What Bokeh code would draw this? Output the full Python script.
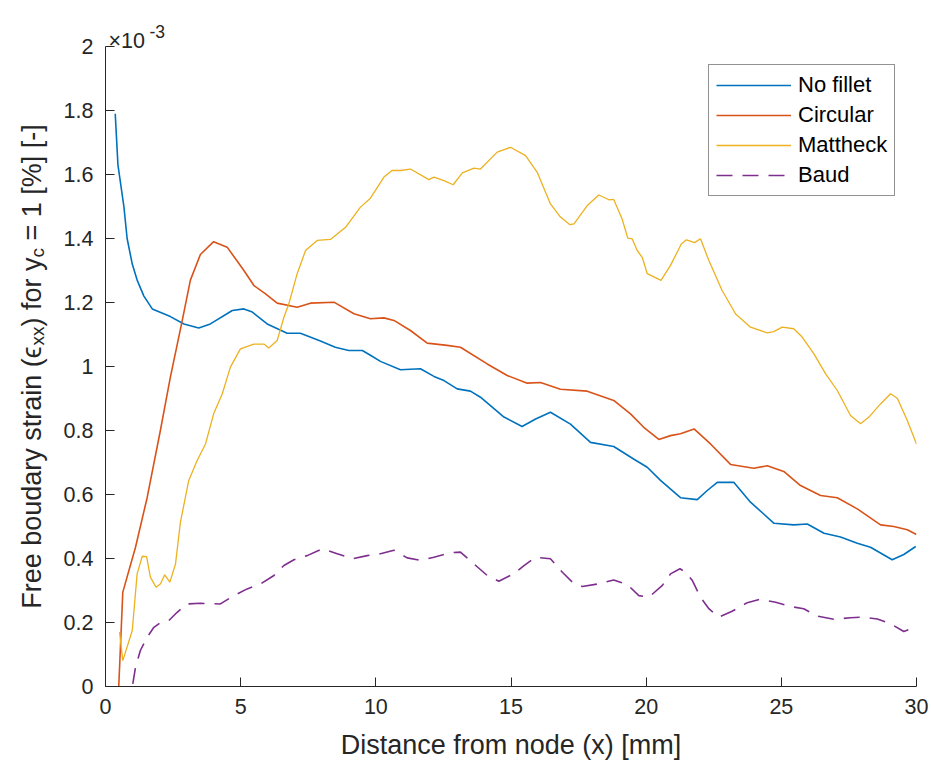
import math
from bokeh.plotting import figure
from bokeh.layouts import row
from bokeh.models import Range1d, FixedTicker, Legend, LegendItem
from bokeh.core.properties import value
from bokeh.embed import file_html
from bokeh.resources import INLINE

# ---- data (strain values in units of 1e-3) ----
nofillet_x = [0.36,0.46,0.68,0.80,0.99,1.17,1.42,1.73,2.40,2.90,3.45,3.88,4.69,5.12,5.43,5.98,6.72,7.21,7.95,8.5,
              9.0,9.5,9.8,10.17,10.91,11.65,12.15,12.52,13.01,13.5,13.87,14.74,15.41,15.91,16.46,17.2,17.94,18.8,19.55,20.04,
              20.53,21.27,21.89,22.26,22.63,23.24,23.86,24.73,25.46,25.96,26.58,27.19,27.81,28.3,29.1,29.53,29.97]
nofillet_y = [1.79,1.63,1.50,1.40,1.32,1.27,1.22,1.18,1.156,1.133,1.12,1.133,1.175,1.18,1.17,1.133,1.104,1.104,1.08,1.06,
              1.05,1.05,1.035,1.016,0.99,0.993,0.969,0.956,0.93,0.923,0.904,0.842,0.8125,0.836,0.857,0.82,0.763,0.75,0.71,0.685,
              0.644,0.59,0.584,0.6125,0.638,0.638,0.576,0.51,0.505,0.508,0.479,0.467,0.448,0.435,0.396,0.4125,0.4375]

circular_x = [0.49,0.64,1.11,1.54,2.03,2.4,2.84,3.14,3.51,4.0,4.5,5.12,5.49,5.92,6.35,7.09,7.58,8.45,9.19,9.8,
              10.3,10.67,11.28,11.9,12.64,13.13,14.12,14.86,15.6,16.09,16.83,17.82,18.8,19.42,19.91,20.47,20.9,21.27,21.77,22.38,
              23.12,23.98,24.48,25.09,25.71,26.45,27.07,27.81,28.67,29.16,29.66,30.0]
circular_y = [0.0,0.295,0.435,0.59,0.8,0.967,1.144,1.27,1.35,1.39,1.373,1.3,1.253,1.227,1.198,1.185,1.198,1.201,1.165,1.149,
              1.152,1.144,1.1125,1.073,1.066,1.06,1.008,0.972,0.948,0.95,0.929,0.923,0.894,0.852,0.81,0.772,0.784,0.79,0.805,0.758,
              0.694,0.682,0.69,0.672,0.628,0.597,0.59,0.555,0.505,0.5,0.49,0.475]

mattheck_x = [0.52,0.64,0.99,1.17,1.36,1.52,1.66,1.87,2.03,2.19,2.38,2.59,2.77,3.08,3.39,3.7,4.0,4.32,4.62,4.99,
              5.49,5.86,6.04,6.35,6.6,6.78,7.09,7.4,7.83,8.32,8.88,9.43,9.8,10.3,10.6,10.91,11.28,11.96,12.15,12.52,
              12.86,13.2,13.63,13.87,14.49,14.98,15.54,15.97,16.46,16.83,17.18,17.33,17.82,18.25,18.62,18.8,19.11,19.32,19.48,19.67,
              19.86,20.04,20.55,20.9,21.3,21.49,21.79,22.01,22.32,22.81,23.31,23.86,24.48,24.72,25.03,25.46,25.77,26.2,26.64,27.07,
              27.56,27.93,28.24,28.67,29.04,29.29,29.66,30.0]
mattheck_y = [0.17,0.081,0.175,0.352,0.407,0.406,0.342,0.31,0.32,0.349,0.326,0.383,0.513,0.644,0.706,0.758,0.852,0.915,0.998,1.055,
              1.07,1.07,1.058,1.081,1.154,1.195,1.29,1.3625,1.394,1.397,1.435,1.498,1.526,1.592,1.6125,1.6125,1.617,1.584,1.592,1.581,
              1.568,1.605,1.62,1.617,1.67,1.685,1.659,1.607,1.508,1.467,1.443,1.446,1.503,1.536,1.521,1.522,1.461,1.401,1.399,1.3625,
              1.34,1.29,1.269,1.316,1.383,1.396,1.387,1.399,1.331,1.2375,1.164,1.123,1.105,1.109,1.123,1.118,1.092,1.04,0.977,0.925,
              0.847,0.821,0.842,0.883,0.915,0.901,0.831,0.758]

baud_x = [1.01,1.11,1.29,1.54,1.79,2.03,2.34,2.65,3.02,3.51,4.25,4.75,5.24,5.73,6.23,6.6,6.97,7.46,8.02,8.57,
          9.13,9.68,10.17,10.67,11.16,11.65,12.15,12.76,13.13,13.63,14.12,14.55,15.1,15.48,15.91,16.46,16.9,17.27,17.64,18.25,
          18.8,19.3,19.73,20.1,20.6,20.9,21.25,21.46,21.71,22.01,22.32,22.69,23.18,23.74,24.23,24.79,25.34,25.83,26.33,26.95,
          27.56,28.0,28.55,29.04,29.53,30.0]
baud_y = [0.008,0.06,0.1125,0.154,0.185,0.199,0.206,0.232,0.258,0.26,0.258,0.284,0.305,0.32,0.347,0.378,0.396,0.409,0.43,0.415,
          0.399,0.409,0.415,0.426,0.402,0.394,0.404,0.418,0.42,0.383,0.347,0.329,0.352,0.378,0.404,0.399,0.357,0.326,0.3125,0.321,
          0.333,0.319,0.284,0.279,0.316,0.352,0.368,0.357,0.331,0.279,0.243,0.217,0.235,0.262,0.273,0.263,0.25,0.243,0.22,0.21,
          0.215,0.217,0.211,0.196,0.172,0.1875]

series_names = ["No fillet", "Circular", "Mattheck", "Baud"]
x_ticks = [0, 5, 10, 15, 20, 25, 30]
y_ticks = [0, 0.2, 0.4, 0.6, 0.8, 1, 1.2, 1.4, 1.6, 1.8, 2]
y_tick_labels = ["0", "0.2", "0.4", "0.6", "0.8", "1", "1.2", "1.4", "1.6", "1.8", "2"]
x_label = "Distance from node (x) [mm]"
y_label_parts = ["Free boudary strain (", "\u03f5", "xx", ") for y", "c", "= 1 [%] [-]"]
exponent_text = ["\u00d710", "-3"]

# ---- styling / layout constants ----
FONT = "Liberation Sans"
AX = "#262626"
colors = ["#0072BD", "#D95319", "#EDB120", "#7E2F8E"]

H = 762
LAB_W = 60                      # strip holding the rotated y label
P_W = 870
AX_LEFT = 45                    # room for y tick labels
FW = 811                        # frame width (x 0..30)
PX_PER_Y = 320.0                # pixels per y unit
AX_TOP = 46                     # pixel row of y = 2 (frame extends to canvas top)
BOTTOM = 76
FH = H - BOTTOM                 # frame height
y_top = FH / PX_PER_Y           # data value at the canvas top

p = figure(width=P_W, height=H, output_backend="svg", toolbar_location=None,
           x_range=Range1d(0, 30), y_range=Range1d(0, y_top),
           min_border_left=AX_LEFT, min_border_top=0,
           min_border_right=P_W - AX_LEFT - FW, min_border_bottom=BOTTOM)
p.outline_line_color = None
p.grid.visible = False
p.background_fill_color = "white"
p.border_fill_color = "white"

for ax in (p.xaxis[0], p.yaxis[0]):
    ax.axis_line_color = AX
    ax.axis_line_width = 1
    ax.major_tick_line_color = AX
    ax.major_tick_in = 9
    ax.major_tick_out = 0
    ax.minor_tick_line_color = None
    ax.major_label_text_font = FONT
    ax.major_label_text_font_size = "21.5px"
    ax.major_label_text_color = AX

p.yaxis.bounds = (y_ticks[0], y_ticks[-1])
p.xaxis.ticker = FixedTicker(ticks=x_ticks)
p.yaxis.ticker = FixedTicker(ticks=y_ticks)
p.yaxis.major_label_overrides = {t: s for t, s in zip(y_ticks, y_tick_labels)}
p.xaxis.major_label_standoff = 12
p.yaxis.major_label_standoff = 12
p.xaxis.axis_label = x_label
p.xaxis.axis_label_text_font = FONT
p.xaxis.axis_label_text_font_size = "27px"
p.xaxis.axis_label_text_font_style = "normal"
p.xaxis.axis_label_text_color = AX
p.xaxis.axis_label_standoff = 13

r1 = p.line(nofillet_x, nofillet_y, line_color=colors[0], line_width=1.6)
r2 = p.line(circular_x, circular_y, line_color=colors[1], line_width=1.6)
r3 = p.line(mattheck_x, mattheck_y, line_color=colors[2], line_width=1.3)
r4 = p.line(baud_x, baud_y, line_color=colors[3], line_width=1.6, line_dash="16 10")

legend = Legend(items=[LegendItem(label=n, renderers=[r]) for n, r in zip(series_names, [r1, r2, r3, r4])],
                location=(603, 490), padding=7, spacing=4,
                glyph_width=75, glyph_height=22, label_height=22, label_standoff=7,
                label_text_font=FONT, label_text_font_size="22px", label_text_color="black",
                border_line_color=AX, border_line_width=1, background_fill_color="white",
                background_fill_alpha=1.0)
p.add_layout(legend)

# exponent (x10^-3) above the y axis, inside the extended frame
xpp = 30.0 / FW
p.text(x=[3 * xpp], y=[2 + 6 / PX_PER_Y], text=[exponent_text[0]], text_font=value(FONT),
       text_font_size="21.5px", text_color=AX, text_baseline="alphabetic", text_align="left")
p.text(x=[44 * xpp], y=[2 + 15 / PX_PER_Y], text=[exponent_text[1]], text_font=value(FONT),
       text_font_size="17.5px", text_color=AX, text_baseline="alphabetic", text_align="left")

# ---- y label strip: frame aligned with the main frame, 1 data unit = 1 px ----
lab = figure(width=LAB_W, height=H, output_backend="svg", toolbar_location=None,
             x_range=Range1d(0, LAB_W), y_range=Range1d(BOTTOM, H),
             x_axis_type=None, y_axis_type=None,
             min_border_left=0, min_border_right=0, min_border_top=0, min_border_bottom=BOTTOM)
lab.outline_line_color = None
lab.grid.visible = False
lab.background_fill_color = "white"
lab.border_fill_color = "white"

main_fs, sub_fs = 27, 19
# advance (in em of each part's own size) up to the start of the next part; the last
# part's leading space is folded into the preceding advance
em_adv = [9.281, 0.47, 1.0, 2.556, 0.5, 4.309]
lead_space = [0, 0, 0, 0, 0.278 * main_fs, 0]               # space after part, in px
is_sub = [False, False, True, False, True, False]
sizes = [sub_fs if s else main_fs for s in is_sub]
lengths = [w * fs + g for w, fs, g in zip(em_adv, sizes, lead_space)]
center = BOTTOM + (FH - AX_TOP) / 2          # vertical middle of the y axis (pixels from canvas bottom)
pos = center - sum(lengths) / 2
BASE_X = 31
for txt, fs, L, sub in zip(y_label_parts, sizes, lengths, is_sub):
    lab.text(x=[BASE_X + (6 if sub else 0)], y=[pos], text=[txt], angle=math.pi / 2,
             text_font=value(FONT), text_font_size=f"{fs}px", text_color=AX,
             text_baseline="alphabetic", text_align="left")
    pos += L

layout = row(lab, p)
open("out.html", "w").write(file_html(layout, INLINE))
